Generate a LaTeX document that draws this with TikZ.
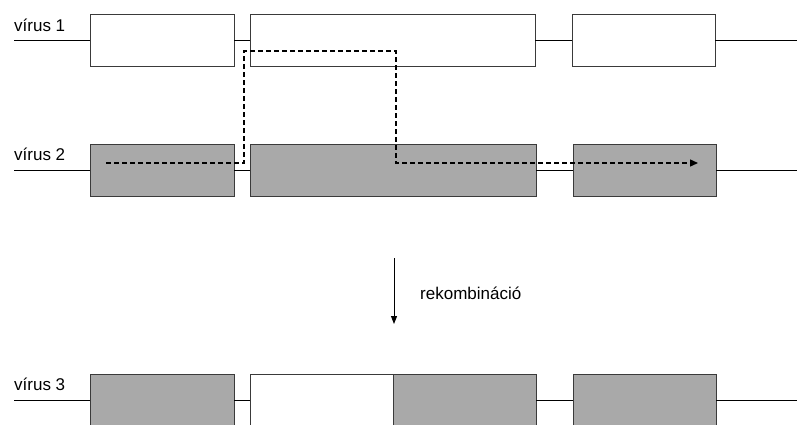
\documentclass[tikz,border=0pt]{standalone}
\usepackage{fontspec}
\setmainfont{Liberation Sans}
\usetikzlibrary{arrows.meta}
\definecolor{boxgray}{HTML}{A9A9A9}
\definecolor{boxline}{HTML}{3A3A3A}
\begin{document}
\begin{tikzpicture}[x=1pt,y=-1pt,
  seg/.style={draw=boxline, line width=1pt, minimum height=52pt, inner sep=0pt, outer sep=0pt, anchor=west},
  gene/.style={seg, fill=white},
  genegray/.style={seg, fill=boxgray},
  link/.style={draw=black, line width=1pt},
  lbl/.style={font=\fontsize{17}{20}\selectfont, inner sep=0pt, anchor=base west},
  recomb/.style={draw=black, line width=1.4pt, dash pattern=on 5pt off 3pt},
  every node/.append style={text=black}]
\useasboundingbox (0,0) rectangle (797,424);
% virus 1
\node[lbl] (t1) at (14,31) {vírus 1};
\coordinate (l1) at (14,40);
\coordinate (r1) at (797,40);
\node[gene, minimum width=144pt] (a1) at (90,40) {};
\node[gene, minimum width=285pt] (b1) at (250,40) {};
\node[gene, minimum width=143pt] (c1) at (572,40) {};
\draw[link] (l1) -- (a1.west);
\draw[link] (a1.east) -- (b1.west);
\draw[link] (b1.east) -- (c1.west);
\draw[link] (c1.east) -- (r1);
% virus 2
\node[lbl] (t2) at (14,160) {vírus 2};
\coordinate (l2) at (14,170);
\coordinate (r2) at (797,170);
\node[genegray, minimum width=144pt] (a2) at (90,170) {};
\node[genegray, minimum width=286pt] (b2) at (250,170) {};
\node[genegray, minimum width=143pt] (c2) at (573,170) {};
\draw[link] (l2) -- (a2.west);
\draw[link] (a2.east) -- (b2.west);
\draw[link] (b2.east) -- (c2.west);
\draw[link] (c2.east) -- (r2);
% recombination path
\coordinate (p0) at (106,163);
\coordinate (p1) at (244,163);
\coordinate (p2) at (244,51);
\coordinate (p3) at (396,51);
\coordinate (p4) at (396,163);
\coordinate (p5) at (698,163);
\draw[recomb, -{Triangle[length=8pt,width=7pt]}] (p0) -- (p1) -- (p2) -- (p3) -- (p4) -- (p5);
% arrow
\coordinate (s0) at (394,258);
\coordinate (s1) at (394,324);
\draw[link, -{Triangle[length=8pt,width=6pt]}] (s0) -- (s1);
\node[lbl, anchor=west] (rk) at (420,293) {rekombináció};
% virus 3
\node[lbl] (t3) at (14,390) {vírus 3};
\coordinate (l3) at (14,400);
\coordinate (r3) at (797,400);
\node[genegray, minimum width=144pt, anchor=north west] (a3) at (90,374) {};
\node[gene, minimum width=143pt, anchor=north west] (b3) at (250,374) {};
\node[genegray, minimum width=143pt, anchor=north west] (d3) at (393,374) {};
\node[genegray, minimum width=143pt, anchor=north west] (c3) at (573,374) {};
\draw[link] (l3) -- (a3.west |- l3);
\draw[link] (a3.east |- l3) -- (b3.west |- l3);
\draw[link] (d3.east |- l3) -- (c3.west |- l3);
\draw[link] (c3.east |- l3) -- (r3);
\end{tikzpicture}
\end{document}
